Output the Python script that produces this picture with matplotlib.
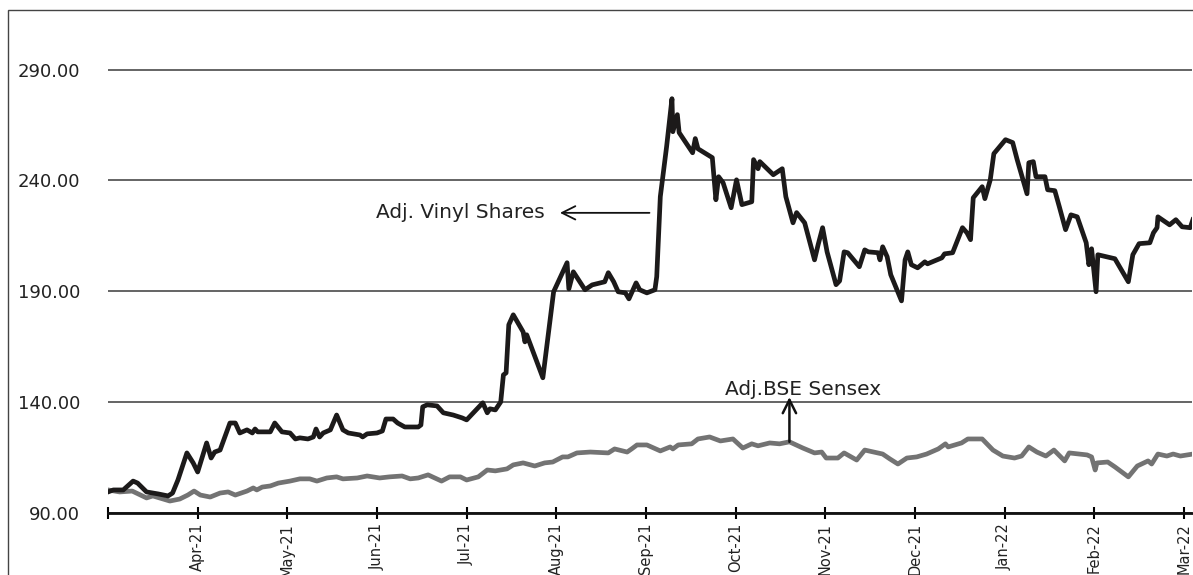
import numpy as np
import matplotlib
matplotlib.use("Agg")
import matplotlib.pyplot as plt
from matplotlib.patches import Rectangle

# x = months since 1 Mar 2021 (0 = Mar-21, 12 = Mar-22)
vinyl_x = [0.00, 0.06, 0.17, 0.28, 0.33, 0.43, 0.50, 0.56, 0.67, 0.72, 0.78, 0.88, 0.95, 1.00,
           1.10, 1.15, 1.19, 1.25, 1.36, 1.42, 1.47, 1.55, 1.61, 1.64, 1.67, 1.81, 1.86, 1.94,
           2.03, 2.09, 2.14, 2.23, 2.29, 2.32, 2.36, 2.40, 2.48, 2.55, 2.62, 2.68, 2.81, 2.84,
           2.89, 3.00, 3.06, 3.10, 3.18, 3.23, 3.31, 3.46, 3.49, 3.51, 3.56, 3.67, 3.74, 3.85,
           3.95, 4.00, 4.18, 4.23, 4.26, 4.32, 4.38, 4.41, 4.44, 4.47, 4.52, 4.63, 4.65, 4.67,
           4.85, 4.97, 5.12, 5.14, 5.19, 5.32, 5.40, 5.54, 5.58, 5.64, 5.69, 5.77, 5.81, 5.89,
           5.93, 6.01, 6.10, 6.12, 6.16, 6.23, 6.29, 6.30, 6.35, 6.37, 6.52, 6.55, 6.58, 6.74,
           6.78, 6.81, 6.86, 6.95, 7.01, 7.07, 7.18, 7.20, 7.25, 7.27, 7.42, 7.52, 7.56, 7.64,
           7.68, 7.77, 7.88, 7.92, 7.97, 8.02, 8.12, 8.16, 8.21, 8.25, 8.38, 8.44, 8.48, 8.59,
           8.61, 8.64, 8.69, 8.73, 8.85, 8.89, 8.92, 8.96, 9.03, 9.11, 9.14, 9.30, 9.33, 9.42,
           9.53, 9.58, 9.62, 9.65, 9.75, 9.78, 9.84, 9.88, 10.01, 10.09, 10.14, 10.25, 10.27,
           10.32, 10.35, 10.45, 10.48, 10.56, 10.61, 10.68, 10.74, 10.81, 10.91, 10.94, 10.97,
           11.02, 11.04, 11.23, 11.38, 11.43, 11.50, 11.62, 11.66, 11.70, 11.71, 11.84, 11.91,
           11.98, 12.07, 12.10]
vinyl_y = [99.5, 100.4, 100.4, 104.4, 103.5, 99.5, 99.0, 98.6, 97.7, 99.0, 104.9, 117.1, 112.6, 108.5,
           121.6, 114.8, 117.5, 118.4, 130.6, 130.6, 126.1, 127.5, 126.1, 127.9, 126.6, 126.6, 130.6, 126.6,
           126.1, 123.4, 123.9, 123.4, 124.3, 127.9, 124.3, 126.1, 127.5, 134.2, 127.5, 126.1, 125.2, 124.3,
           125.7, 126.1, 127.0, 132.4, 132.4, 130.6, 128.8, 128.8, 129.7, 137.9, 138.8, 138.3, 135.2, 134.2,
           132.9, 132.0, 139.7, 135.2, 137.0, 136.5, 140.1, 152.3, 153.2, 174.9, 179.4, 171.7, 167.2, 170.4,
           151.0, 189.8, 202.9, 191.1, 198.8, 190.7, 192.9, 194.3, 198.4, 194.3, 189.8, 189.3, 186.6, 193.8,
           190.7, 189.3, 190.7, 196.6, 232.7, 255.2, 276.9, 262.0, 269.7, 261.6, 252.5, 258.9, 254.3, 250.3,
           231.3, 241.7, 239.0, 227.7, 240.3, 229.1, 230.4, 249.4, 245.3, 248.5, 242.6, 245.3, 232.7, 220.9,
           225.5, 220.9, 204.2, 211.0, 218.7, 207.8, 193.0, 194.7, 207.8, 207.4, 201.1, 208.7, 207.8, 207.4,
           204.2, 210.1, 205.6, 197.5, 185.7, 204.2, 207.8, 202.0, 200.6, 203.3, 202.4, 205.1, 206.9, 207.4,
           218.7, 216.4, 213.3, 232.2, 237.2, 231.8, 240.3, 252.1, 258.4, 257.1, 249.4, 234.0, 248.0,
           248.5, 241.7, 241.7, 235.8, 235.4, 228.2, 217.8, 224.5, 223.6, 211.9, 202.0, 209.2,
           189.8, 206.5, 204.7, 194.3, 206.5, 211.5, 211.9, 216.4, 218.7, 223.6, 220.0, 222.3,
           219.1, 218.7, 222.3]

sensex_x = [0.00, 0.13, 0.27, 0.43, 0.50, 0.69, 0.80, 0.89, 0.96, 1.03, 1.14, 1.25, 1.34, 1.42,
            1.55, 1.62, 1.66, 1.72, 1.81, 1.90, 2.03, 2.14, 2.25, 2.33, 2.44, 2.55, 2.62, 2.78,
            2.89, 3.03, 3.14, 3.28, 3.37, 3.46, 3.57, 3.72, 3.81, 3.93, 4.00, 4.13, 4.23, 4.32,
            4.45, 4.52, 4.63, 4.76, 4.87, 4.96, 5.07, 5.13, 5.23, 5.38, 5.58, 5.65, 5.79, 5.84,
            5.90, 6.01, 6.16, 6.27, 6.30, 6.36, 6.51, 6.58, 6.71, 6.83, 6.97, 7.08, 7.18, 7.25,
            7.38, 7.49, 7.60, 7.75, 7.88, 7.96, 8.01, 8.14, 8.21, 8.35, 8.44, 8.64, 8.72, 8.81,
            8.91, 9.02, 9.13, 9.26, 9.34, 9.37, 9.52, 9.59, 9.75, 9.87, 9.98, 10.11, 10.19, 10.27,
            10.36, 10.46, 10.55, 10.67, 10.72, 10.92, 10.97, 11.01, 11.03, 11.15, 11.23, 11.38,
            11.48, 11.60, 11.64, 11.71, 11.81, 11.88, 11.96, 12.10]
sensex_y = [100.4, 99.5, 99.9, 96.8, 97.7, 95.4, 96.3, 98.1, 99.9, 98.1, 97.2, 99.0, 99.5, 98.1,
            99.9, 101.3, 100.4, 101.7, 102.2, 103.5, 104.4, 105.4, 105.4, 104.4, 105.8, 106.3, 105.4, 105.8,
            106.7, 105.8, 106.3, 106.7, 105.4, 105.8, 107.2, 104.4, 106.3, 106.3, 104.9, 106.3, 109.4, 109.0,
            109.9, 111.7, 112.6, 111.2, 112.6, 113.0, 115.3, 115.3, 117.1, 117.5, 117.1, 118.9, 117.5, 118.9,
            120.7, 120.7, 118.0, 119.8, 118.9, 120.7, 121.2, 123.4, 124.3, 122.5, 123.4, 119.3, 121.2, 120.3,
            121.6, 121.2, 122.1, 119.3, 117.1, 117.5, 114.8, 114.8, 117.1, 113.9, 118.4, 116.6, 114.4, 112.1,
            114.8, 115.3, 116.6, 118.9, 121.2, 119.8, 121.6, 123.4, 123.4, 118.4, 115.7, 114.8, 115.7, 119.8,
            117.5, 115.7, 118.4, 113.5, 117.1, 116.2, 115.3, 109.4, 112.6, 113.0, 110.8, 106.3,
            111.2, 113.5, 112.1, 116.6, 115.7, 116.6, 115.7, 116.6]

month_labels = ["", "Apr-21", "May-21", "Jun-21", "Jul-21", "Aug-21", "Sep-21",
                "Oct-21", "Nov-21", "Dec-21", "Jan-22", "Feb-22", "Mar-22"]
y_ticks = [90, 140, 190, 240, 290]

W, H = 1193, 575
fig = plt.figure(figsize=(W / 100, H / 100), dpi=100)
ax = fig.add_axes([108 / W, (H - 513) / H, (1192 - 108) / W, (513 - 12) / H])

ax.plot(sensex_x, sensex_y, color="#737373", lw=3.4, solid_joinstyle="round", zorder=3)
ax.plot(vinyl_x, vinyl_y, color="#1c1a1a", lw=3.4, solid_joinstyle="round", zorder=4)

ax.set_xlim(0, 12.09)
ax.set_ylim(90, 316)

# osie i siatka
for s in ["left", "top", "right"]:
    ax.spines[s].set_visible(False)
ax.spines["bottom"].set_linewidth(2)
ax.spines["bottom"].set_color("#111111")
ax.set_yticks(y_ticks)
ax.set_yticklabels([f"{v:.2f}" for v in y_ticks], fontsize=13, color="#222222")
ax.tick_params(axis="y", length=0, pad=20)
ax.yaxis.grid(True, color="#3a3a3a", lw=1.1)
ax.set_axisbelow(True)

ax.set_xticks(range(len(month_labels)))
ax.set_xticklabels(month_labels, rotation=90, fontsize=10.5, color="#222222")
ax.tick_params(axis="x", direction="inout", length=8, width=1.5, pad=3)

# adnotacje
ax.annotate("", xy=(5.01, 225.4), xytext=(6.07, 225.4),
            arrowprops=dict(arrowstyle="->", color="#111111", lw=1.3, mutation_scale=24))
ax.text(3.93, 225.4, "Adj. Vinyl Shares", fontsize=14.5, ha="center", va="center", color="#222222")

ax.annotate("", xy=(7.60, 142.3), xytext=(7.60, 122.1),
            arrowprops=dict(arrowstyle="->", color="#111111", lw=1.8, mutation_scale=24,
                            shrinkA=0, shrinkB=0))
ax.text(7.75, 145.6, "Adj.BSE Sensex", fontsize=14.5, ha="center", va="center", color="#222222")

# ramka wokół wykresu
fig.patches.append(Rectangle((8 / W, -0.05), 1.2, 1 - 10 / H + 0.05, transform=fig.transFigure,
                             fill=False, ec="#444444", lw=1.0))

fig.savefig("out.png", dpi=100)
